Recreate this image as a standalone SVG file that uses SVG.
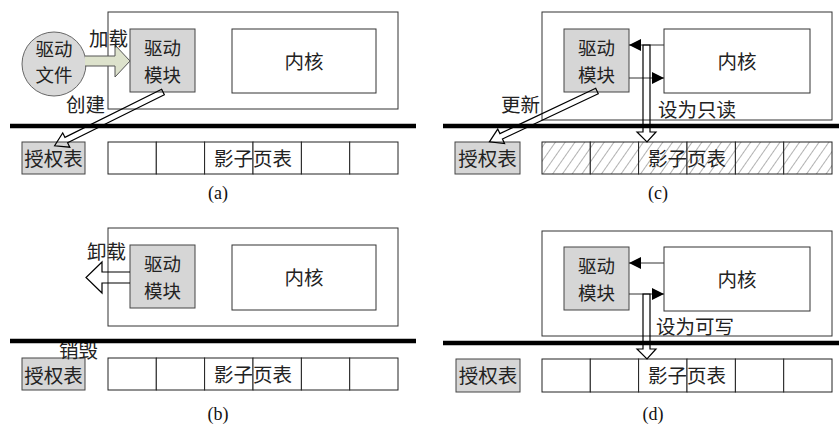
<svg xmlns="http://www.w3.org/2000/svg" width="839" height="426" viewBox="0 0 839 426">
<style>
.box{fill:#fff;stroke:#333;stroke-width:1}
.grey{fill:#d6d6d6;stroke:#444;stroke-width:1}
.cell{fill:#fff;stroke:#222;stroke-width:1}
.hcell{fill:url(#hatch);stroke:#222;stroke-width:1}
.bar{stroke:#000;stroke-width:4.5}
.hollow{fill:none;stroke:#000;stroke-width:1.2}
.thin{stroke:#333;stroke-width:1;fill:none}
.t{font-family:"Noto Sans CJK SC","Noto Sans CJK JP",sans-serif;font-size:19.5px;fill:#222}
.t2{font-family:"Noto Sans CJK SC","Noto Sans CJK JP",sans-serif;font-size:18.5px;fill:#222}
.c{text-anchor:middle}
.lab{font-family:"Liberation Serif",serif;font-size:18px;fill:#111;text-anchor:middle}
</style>
<defs>
<pattern id="hatch" patternUnits="userSpaceOnUse" width="8" height="8" patternTransform="rotate(35)">
<rect width="8" height="8" fill="#fff"/>
<line x1="0" y1="0" x2="0" y2="8" stroke="#555" stroke-width="0.9"/>
</pattern>
<marker id="ah" viewBox="0 0 12 12" refX="12" refY="6" markerWidth="12" markerHeight="12" markerUnits="userSpaceOnUse" orient="auto">
<path d="M0,0 L12,6 L0,12 z" fill="#000"/>
</marker>
</defs>

<!-- Panel (a) -->
<g id="panel-a">
<g id="a-outer"><rect class="box" x="108" y="12" width="290" height="97"/></g>
<g id="a-file"><circle cx="54" cy="64" r="32" fill="#d9d9d9" stroke="#666" stroke-width="1"/>
<text class="t2 c" x="54" y="56">驱动</text><text class="t2 c" x="54" y="82">文件</text></g>
<g id="a-module"><rect class="grey" x="130" y="29" width="65" height="63"/>
<text class="t2 c" x="162.5" y="55">驱动</text><text class="t2 c" x="162.5" y="82">模块</text></g>
<g id="a-kernel"><rect class="box" x="232" y="29" width="144" height="64"/>
<text class="t c" x="304" y="69">内核</text></g>
<g id="a-auth"><rect class="grey" x="22" y="142" width="63" height="32"/>
<text class="t c" x="53.5" y="166">授权表</text></g>
<g id="a-spt">
<rect class="cell" x="108" y="142" width="48.3" height="32"/><rect class="cell" x="156.3" y="142" width="48.3" height="32"/>
<rect class="cell" x="204.6" y="142" width="48.4" height="32"/><rect class="cell" x="253" y="142" width="48.4" height="32"/>
<rect class="cell" x="301.4" y="142" width="48.3" height="32"/><rect class="cell" x="349.7" y="142" width="48.3" height="32"/>
<text class="t c" x="253" y="166">影子页表</text></g>
<text class="lab" x="218" y="199">(a)</text>
</g>

<!-- Panel (b) -->
<g id="panel-b">
<g id="b-outer"><rect class="box" x="108" y="228" width="290" height="98"/></g>
<g id="b-module"><rect class="grey" x="130" y="245" width="65" height="63"/>
<text class="t2 c" x="162.5" y="271">驱动</text><text class="t2 c" x="162.5" y="298">模块</text></g>
<g id="b-kernel"><rect class="box" x="232" y="245" width="144" height="65"/>
<text class="t c" x="304" y="285">内核</text></g>
<g id="b-auth"><rect class="grey" x="22" y="358" width="63" height="32"/>
<text class="t c" x="53.5" y="383">授权表</text></g>
<g id="b-spt">
<rect class="cell" x="108" y="358" width="48.3" height="32"/><rect class="cell" x="156.3" y="358" width="48.3" height="32"/>
<rect class="cell" x="204.6" y="358" width="48.4" height="32"/><rect class="cell" x="253" y="358" width="48.4" height="32"/>
<rect class="cell" x="301.4" y="358" width="48.3" height="32"/><rect class="cell" x="349.7" y="358" width="48.3" height="32"/>
<text class="t c" x="253" y="382">影子页表</text></g>
<text class="lab" x="218" y="420">(b)</text>
</g>

<!-- Panel (c) -->
<g id="panel-c">
<g id="c-outer"><rect class="box" x="542" y="12" width="290" height="108"/></g>
<g id="c-module"><rect class="grey" x="564" y="29" width="65" height="63"/>
<text class="t2 c" x="596.5" y="55">驱动</text><text class="t2 c" x="596.5" y="82">模块</text></g>
<g id="c-kernel"><rect class="box" x="664" y="29" width="146" height="64"/>
<text class="t c" x="737" y="69">内核</text></g>
<g id="c-auth"><rect class="grey" x="455" y="142" width="65" height="32"/>
<text class="t c" x="487.5" y="166">授权表</text></g>
<g id="c-spt">
<rect class="hcell" x="542" y="142" width="48.3" height="32"/><rect class="hcell" x="590.3" y="142" width="48.3" height="32"/>
<rect class="hcell" x="638.6" y="142" width="48.4" height="32"/><rect class="hcell" x="687" y="142" width="48.4" height="32"/>
<rect class="hcell" x="735.4" y="142" width="48.3" height="32"/><rect class="hcell" x="783.7" y="142" width="48.3" height="32"/>
<text class="t c" x="687" y="166">影子页表</text></g>
<text class="lab" x="658" y="199">(c)</text>
</g>

<!-- Panel (d) -->
<g id="panel-d">
<g id="d-outer"><rect class="box" x="542" y="231" width="290" height="105"/></g>
<g id="d-module"><rect class="grey" x="564" y="247" width="65" height="63"/>
<text class="t2 c" x="596.5" y="273">驱动</text><text class="t2 c" x="596.5" y="300">模块</text></g>
<g id="d-kernel"><rect class="box" x="664" y="247" width="146" height="64"/>
<text class="t c" x="737" y="287">内核</text></g>
<g id="d-auth"><rect class="grey" x="456" y="359" width="64" height="33"/>
<text class="t c" x="488" y="383">授权表</text></g>
<g id="d-spt">
<rect class="cell" x="542" y="359" width="48.3" height="33"/><rect class="cell" x="590.3" y="359" width="48.3" height="33"/>
<rect class="cell" x="638.6" y="359" width="48.4" height="33"/><rect class="cell" x="687" y="359" width="48.4" height="33"/>
<rect class="cell" x="735.4" y="359" width="48.3" height="33"/><rect class="cell" x="783.7" y="359" width="48.3" height="33"/>
<text class="t c" x="687" y="383">影子页表</text></g>
<text class="lab" x="653" y="420">(d)</text>
</g>

<!-- Connectors -->
<g id="connectors">
<!-- (a) load -->
<path d="M85,56 L115,56 L115,45 L130,61 L115,77 L115,66 L85,66" fill="#dde2cc" stroke="#555" stroke-width="1"/>
<text class="t" x="89" y="46">加载</text>
<!-- (a) create -->
<g transform="translate(163,92) rotate(153.6)"><path class="hollow" d="M0,-3 L108,-3 L108,-8 L121,0 L108,8 L108,3 L0,3 Z"/></g>
<text class="t" x="66" y="112">创建</text>
<!-- (b) unload -->
<path class="hollow" d="M130,272 L102,272 L102,262 L86,277.5 L102,293 L102,283 L130,283"/>
<text class="t" x="87" y="259">卸载</text>
<text class="t" x="59" y="358">销毁</text>
<!-- (c) -->
<line class="thin" x1="664" y1="45" x2="629" y2="45" marker-end="url(#ah)"/>
<line class="thin" x1="629" y1="78" x2="664" y2="78" marker-end="url(#ah)"/>
<path class="hollow" d="M643,45 L643,132 L637,132 L647,142 L656,132 L650,132 L650,45 Z"/>
<text class="t" x="658" y="117">设为只读</text>
<g transform="translate(597,91) rotate(154.7)"><path class="hollow" d="M0,-3 L106,-3 L106,-8 L119,0 L106,8 L106,3 L0,3 Z"/></g>
<text class="t" x="501" y="112">更新</text>
<!-- (d) -->
<line class="thin" x1="664" y1="263" x2="629" y2="263" marker-end="url(#ah)"/>
<line class="thin" x1="629" y1="294" x2="664" y2="294" marker-end="url(#ah)"/>
<path class="hollow" d="M643,294 L643,349 L637,349 L647,359 L656,349 L650,349 L650,294 Z"/>
<text class="t" x="656" y="334">设为可写</text>
</g>

<!-- thick separators -->
<g id="separators">
<line class="bar" x1="10" y1="126" x2="416" y2="126"/>
<line class="bar" x1="443" y1="126" x2="839" y2="126"/>
<line class="bar" x1="10" y1="341" x2="416" y2="341"/>
<line class="bar" x1="443" y1="343" x2="839" y2="343"/>
</g>
</svg>
